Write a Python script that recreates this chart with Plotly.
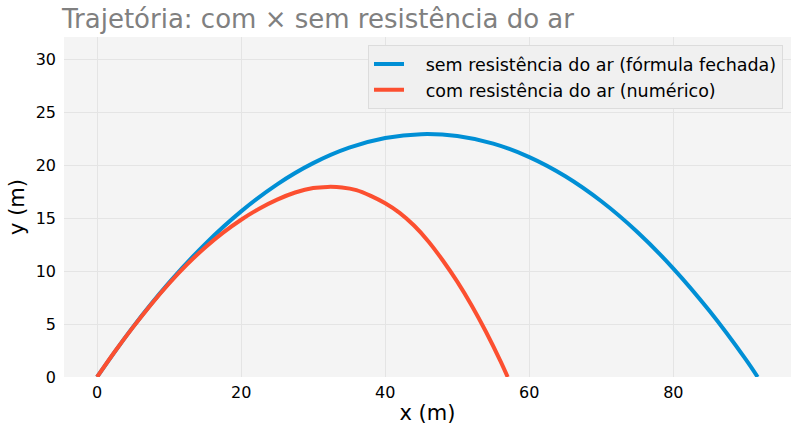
import plotly.graph_objects as go

# trajectory
x_sem = [0, 5, 10, 15, 20, 25, 30, 35, 40, 45, 50, 55, 60, 65, 70, 75, 80, 85, 90, 91.7]
y_sem = [0, 4.73, 8.91, 12.55, 15.64, 18.19, 20.19, 21.65, 22.56, 22.93, 22.75, 22.03,
         20.76, 18.95, 16.59, 13.69, 10.24, 6.25, 1.71, 0]

x_com = [0, 2.5, 5, 7.5, 10, 12.5, 15, 17.5, 20, 22.5, 25, 27.5, 30, 32, 34, 36, 38, 40,
         42, 44, 46, 48, 50, 52, 54, 56, 57]
y_com = [0, 2.43, 4.71, 6.85, 8.83, 10.63, 12.23, 13.63, 14.85, 15.89, 16.75, 17.42, 17.85,
         17.95, 17.9, 17.65, 17.1, 16.4, 15.5, 14.3, 12.8, 11.0, 9.0, 6.75, 4.25, 1.5, 0]

pad = "\u00a0\u00a0\u00a0"  # gap between legend line and text, as in the original

fig = go.Figure()
fig.add_trace(go.Scatter(
    x=x_sem, y=y_sem, mode="lines", line_shape="spline",
    line={"color": "#008fd5", "width": 4},
    name=pad + "sem resistência do ar (fórmula fechada)",
))
fig.add_trace(go.Scatter(
    x=x_com, y=y_com, mode="lines", line_shape="spline",
    line={"color": "#fc4f30", "width": 4},
    name=pad + "com resistência do ar (numérico)",
))

fig.update_layout(
    width=800,
    height=435,
    margin={"l": 64, "r": 9, "t": 37, "b": 58},
    paper_bgcolor="white",
    plot_bgcolor="#f4f4f4",
    font={"family": "DejaVu Sans", "size": 16, "color": "black"},
    title={
        "text": "Trajetória: com × sem resistência do ar",
        "x": 0.0775, "xanchor": "left",
        "y": 0.957, "yanchor": "middle",
        "font": {"size": 26, "color": "#808080"},
    },
    legend={
        "x": 0.989, "xanchor": "right",
        "y": 0.976, "yanchor": "top",
        "bgcolor": "#f0f0f0",
        "bordercolor": "#dcdcdc",
        "borderwidth": 1,
        "font": {"size": 17.5},
    },
    xaxis={
        "title": {"text": "x (m)", "font": {"size": 21}, "standoff": 4},
        "range": [-4.59, 96.33],
        "tickvals": [0, 20, 40, 60, 80],
        "showgrid": True, "gridcolor": "#e4e4e4", "gridwidth": 1,
        "zeroline": False, "showline": False, "automargin": False,
        "ticks": "", "ticklabelstandoff": 4,
    },
    yaxis={
        "title": {"text": "y (m)", "font": {"size": 21}, "standoff": 5},
        "range": [0, 32.1],
        "tickvals": [0, 5, 10, 15, 20, 25, 30],
        "showgrid": True, "gridcolor": "#e4e4e4", "gridwidth": 1,
        "zeroline": False, "showline": False, "automargin": False,
        "ticks": "", "ticklabelstandoff": 7,
    },
)

# drop the default 8px page margin so the figure fills the window
fig.write_html(
    "out.html",
    config={"displayModeBar": False},
    post_script="document.body.style.margin = '0';",
)
